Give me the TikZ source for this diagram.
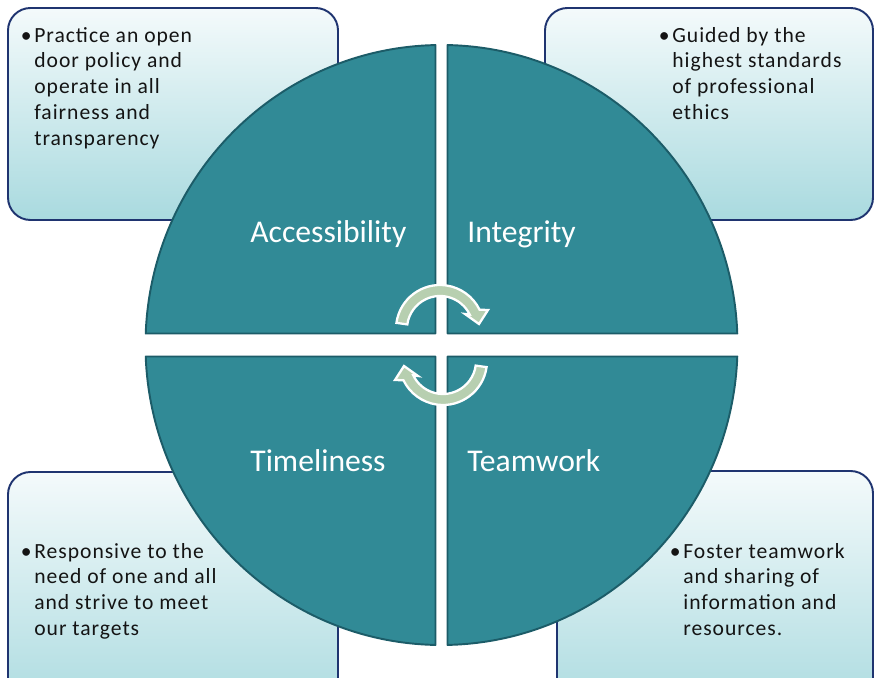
\documentclass[tikz,border=0pt]{standalone}
\usepackage{fontspec}
\setmainfont{Carlito}
\newfontfamily\boxfont[LetterSpace=4.5]{Carlito}
\definecolor{quadfill}{HTML}{318A96}
\definecolor{quadline}{HTML}{1C5C68}
\definecolor{boxline}{HTML}{1F3470}
\definecolor{boxtop}{HTML}{F4FAFB}
\definecolor{boxbottom}{HTML}{A9DADF}
\definecolor{arrowfill}{HTML}{B7CFB0}
\definecolor{bodytext}{HTML}{141414}
\begin{document}
\begin{tikzpicture}[x=0.02cm,y=-0.02cm,
  infobox/.style={draw=boxline,line width=1.1pt,rounded corners=0.45cm,top color=boxtop,bottom color=boxbottom},
  quarter/.style={fill=quadfill,draw=quadline,line width=1.1pt,line join=round},
  quadlabel/.style={font=\fontsize{18}{21}\selectfont,text=white,anchor=base west,inner sep=0pt},
  boxtext/.style={font=\boxfont\fontsize{12.3}{14.68}\selectfont,text=bodytext,align=left,anchor=base west,inner sep=0pt},
  cyclearrow/.style={fill=arrowfill,draw=white,line width=1.3pt,line join=miter}]
  \useasboundingbox (0,0) rectangle (874,678);
  % boxes behind the wheel
  \draw[infobox] (8,8) rectangle (338,220);
  \draw[infobox] (545,8) rectangle (873,220);
  \draw[infobox] (8,472) rectangle (338,720);
  \draw[infobox] (557,471) rectangle (873,720);
  %
  % box texts (placed at the baseline of their last line)
  \node[boxtext] (taccess) at (34,145.2) {\llap{\textbullet\hspace{1.5pt}}Practice an open\\door policy and\\operate in all\\fairness and\\transparency};
  \node[boxtext] (tinteg) at (672,119.4) {\llap{\textbullet\hspace{1.5pt}}Guided by the\\highest standards\\of professional\\ethics};
  \node[boxtext] (ttime) at (34,635.4) {\llap{\textbullet\hspace{1.5pt}}Responsive to the\\need of one and all\\and strive to meet\\our targets};
  \node[boxtext] (tteam) at (683,635.4) {\llap{\textbullet\hspace{1.5pt}}Foster teamwork\\and sharing of\\information and\\resources.};
  %
  % wheel quarters
  \draw[quarter] (435.5,333.5) -- (145.72,333.5) arc[start angle=182.2, end angle=268.84, x radius=296, y radius=300] -- cycle;
  \draw[quarter] (447.5,333.5) -- (447.5,45.06) arc[start angle=271.16, end angle=357.8, x radius=296, y radius=300] -- cycle;
  \draw[quarter] (447.5,356.5) -- (737.28,356.5) arc[start angle=2.2, end angle=88.84, x radius=296, y radius=300] -- cycle;
  \draw[quarter] (435.5,356.5) -- (435.5,644.94) arc[start angle=91.16, end angle=177.8, x radius=296, y radius=300] -- cycle;
  %
  % quarter labels
  \node[quadlabel] (access) at (250,242.3) {Accessibility};
  \node[quadlabel] (integ) at (467,242.3) {Integrity};
  \node[quadlabel] (time) at (250,471.7) {Timeliness};
  \node[quadlabel] (team) at (467,471.7) {Teamwork};
  %
  % cycle arrows
  \foreach \rot in {0,180} {
    \begin{scope}[rotate around={\rot:(441.5,345)}]
      \draw[cyclearrow] ([shift={(188:44)}]440,329) arc[start angle=188, end angle=334, radius=44]
        -- ([shift={(48,-19)}]440,329) -- ([shift={(39,-5)}]440,329) -- ([shift={(25,-15)}]440,329)
        -- ([shift={(334:33)}]440,329) arc[start angle=334, end angle=188, radius=33] -- cycle;
    \end{scope}
  }
\end{tikzpicture}
\end{document}
